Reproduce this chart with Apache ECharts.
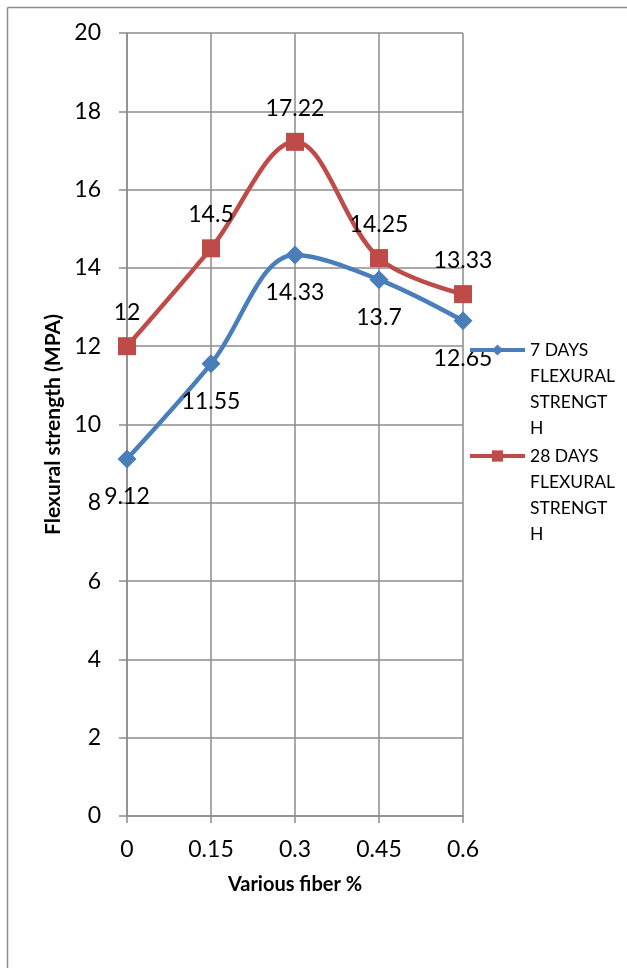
<!DOCTYPE html>
<html>
<head>
<meta charset="utf-8">
<script src="https://cdn.jsdelivr.net/npm/echarts@6/dist/echarts.min.js"></script>
<style>
  html, body { margin: 0; padding: 0; background: #fff; }
  #chart { width: 627px; height: 968px; }
</style>
</head>
<body>
<div id="chart"></div>
<script>
// Fibre dosage (%) and flexural strength (MPa) at 7 and 28 days
const fiberPercent = ['0', '0.15', '0.3', '0.45', '0.6'];
const strength7Days = [9.12, 11.55, 14.33, 13.7, 12.65];
const strength28Days = [12, 14.5, 17.22, 14.25, 13.33];
const seriesNames = ['7 DAYS FLEXURAL STRENGTH', '28 DAYS FLEXURAL STRENGTH'];
const legendLines = {
  '7 DAYS FLEXURAL STRENGTH': ['7 DAYS', 'FLEXURAL', 'STRENGT', 'H'],
  '28 DAYS FLEXURAL STRENGTH': ['28 DAYS', 'FLEXURAL', 'STRENGT', 'H']
};

const FONT = 'Lato, "Open Sans", sans-serif';
const GRID_COLOR = '#8c8c8c';
const BLUE = '#4A7EBB';
const RED = '#BE4B48';

const LEGEND_LINE_H = 26;

// The legend text block is centred on its icon; three blank lines in front
// move the centre onto the first real line so the icon sits beside it.
function legendFor(name, iconY) {
  const lines = legendLines[name];
  const blank = lines.length - 1;
  return {
    data: [name],
    left: 468,
    top: iconY - (blank + 0.5) * LEGEND_LINE_H,
    padding: 0,
    itemWidth: 55,
    itemHeight: 14,
    itemGap: 0,
    selectedMode: false,
    formatter: () => '\n'.repeat(blank) + lines.join('\n'),
    lineStyle: { width: 4 },
    textStyle: {
      fontFamily: FONT,
      fontSize: 17.5,
      color: '#000',
      lineHeight: LEGEND_LINE_H
    }
  };
}

const chart = echarts.init(document.getElementById('chart'), null, { renderer: 'canvas' });

chart.setOption({
  backgroundColor: '#fff',
  animation: false,
  graphic: [
    { type: 'line', shape: { x1: 7.5, y1: 7.5, x2: 627, y2: 7.5 }, style: { stroke: '#8c8c8c', lineWidth: 1.5 } },
    { type: 'line', shape: { x1: 7.5, y1: 7.5, x2: 7.5, y2: 968 }, style: { stroke: '#8c8c8c', lineWidth: 1.5 } }
  ],
  grid: { left: 127, right: 164, top: 33, bottom: 152, containLabel: false },
  legend: [
    legendFor(seriesNames[0], 350),
    legendFor(seriesNames[1], 456)
  ],
  xAxis: {
    type: 'category',
    data: fiberPercent,
    boundaryGap: false,
    name: 'Various fiber %',
    nameLocation: 'middle',
    nameGap: 59,
    nameTextStyle: { fontFamily: FONT, fontSize: 20, fontWeight: 'bold', color: '#000' },
    axisLine: { lineStyle: { color: GRID_COLOR, width: 1.5 } },
    axisTick: { show: true, inside: false, length: 7, alignWithLabel: true, lineStyle: { color: GRID_COLOR, width: 1.5 } },
    axisLabel: { margin: 22, fontFamily: FONT, fontSize: 23, color: '#000' },
    splitLine: { show: true, lineStyle: { color: GRID_COLOR, width: 1.5 } }
  },
  yAxis: {
    type: 'value',
    min: 0,
    max: 20,
    interval: 2,
    name: 'Flexural strength (MPA)',
    nameLocation: 'middle',
    nameGap: 63,
    nameTextStyle: { fontFamily: FONT, fontSize: 21, fontWeight: 'bold', color: '#000' },
    axisLine: { show: true, lineStyle: { color: GRID_COLOR, width: 1.5 } },
    axisTick: { show: true, inside: false, length: 8, lineStyle: { color: GRID_COLOR, width: 1.5 } },
    axisLabel: { margin: 26, fontFamily: FONT, fontSize: 23, color: '#000' },
    splitLine: { show: true, lineStyle: { color: GRID_COLOR, width: 1.5 } }
  },
  series: [
    {
      name: seriesNames[0],
      type: 'line',
      data: strength7Days,
      smooth: 0.35,
      symbol: 'diamond',
      symbolSize: 19,
      color: BLUE,
      lineStyle: { color: BLUE, width: 4.5 },
      itemStyle: { color: BLUE },
      label: {
        show: true,
        position: 'bottom',
        distance: 17,
        fontFamily: FONT,
        fontSize: 23,
        color: '#000'
      },
      z: 3
    },
    {
      name: seriesNames[1],
      type: 'line',
      data: strength28Days,
      smooth: 0.35,
      symbol: 'rect',
      symbolSize: 18,
      color: RED,
      lineStyle: { color: RED, width: 4.5 },
      itemStyle: { color: RED },
      label: {
        show: true,
        position: 'top',
        distance: 13,
        fontFamily: FONT,
        fontSize: 23,
        color: '#000'
      },
      z: 2
    }
  ]
});
</script>
</body>
</html>
